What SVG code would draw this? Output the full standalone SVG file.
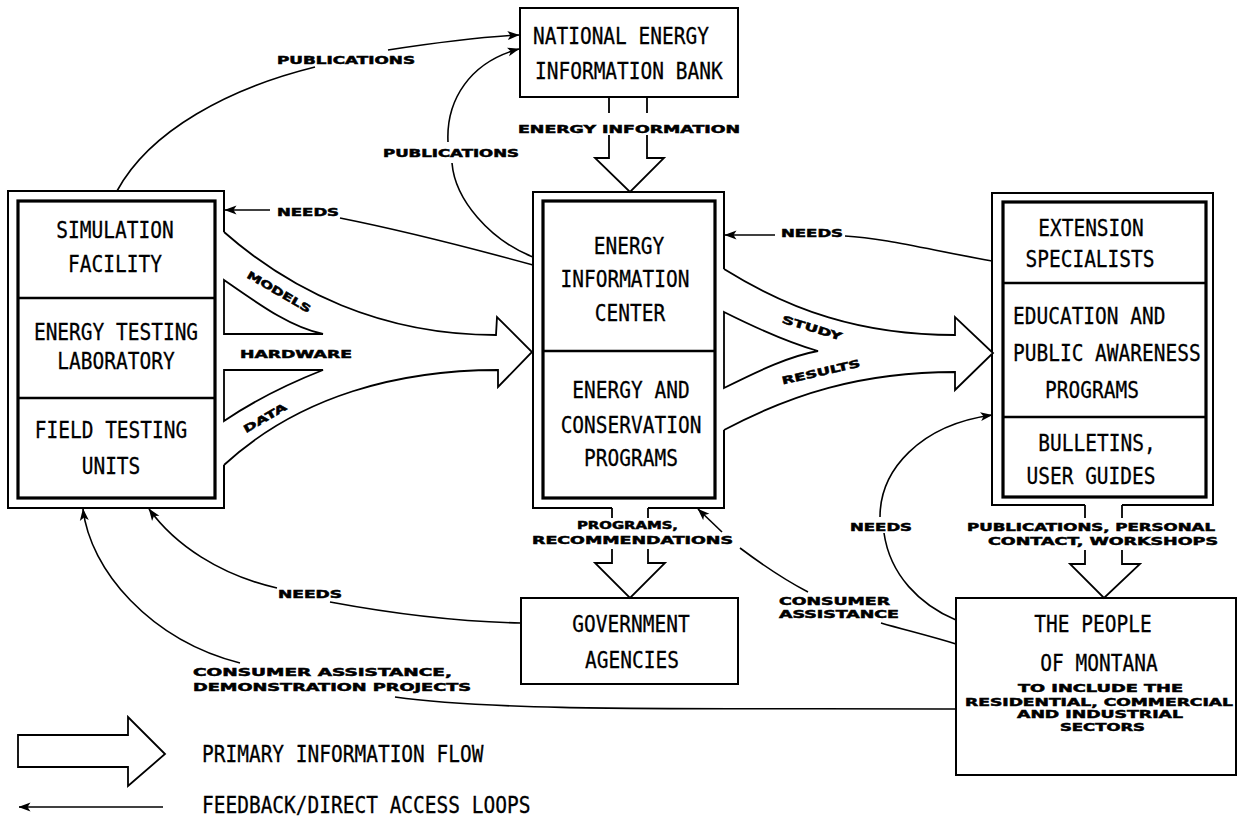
<svg xmlns="http://www.w3.org/2000/svg" width="1238" height="816" viewBox="0 0 1238 816">
<style>
.bg{fill:#fff}
.ob{fill:none;stroke:#000;stroke-width:2}
.ib{fill:none;stroke:#000;stroke-width:3.2}
.dv{stroke:#000;stroke-width:2.6}
.fl{fill:#fff;stroke:#000;stroke-width:1.8;stroke-linejoin:miter}
.cn{fill:none;stroke:#000;stroke-width:1.6}
.m{font-family:'DejaVu Sans Mono','Liberation Mono',monospace;font-size:19.5px;fill:#000;stroke:#000;stroke-width:0.25}
.mc{text-anchor:middle}
.l{font-family:'DejaVu Sans','Liberation Sans',sans-serif;font-weight:bold;font-size:10.5px;fill:#000;stroke:#000;stroke-width:0.5}
</style>
<defs>
<marker id="ah" viewBox="0 0 12 10" refX="11.5" refY="5" markerWidth="12" markerHeight="10" markerUnits="userSpaceOnUse" orient="auto">
<path d="M0,0.5 L12,5 L0,9.5 L3,5 Z" fill="#000"/>
</marker>
</defs>
<rect class="bg" x="0" y="0" width="1238" height="816"/>

<!-- National Energy Information Bank -->
<g id="neib">
<rect class="ob" x="520" y="8" width="218" height="89"/>
<text class="m" transform="translate(533 43.5) scale(1 1.2)">NATIONAL ENERGY</text>
<text class="m" transform="translate(535 78.5) scale(1 1.2)">INFORMATION BANK</text>
</g>

<!-- Left box -->
<g id="left-box">
<path class="ob" d="M224,232 L224,191 L8,191 L8,508 L224,508 L224,465"/>
<rect class="ib" x="18" y="201" width="197" height="297"/>
<line class="dv" x1="18" y1="298" x2="215" y2="298"/>
<line class="dv" x1="18" y1="398" x2="215" y2="398"/>
<text class="m mc" transform="translate(115 237.5) scale(1 1.2)">SIMULATION</text>
<text class="m mc" transform="translate(115 271.5) scale(1 1.2)">FACILITY</text>
<text class="m mc" transform="translate(116 339.5) scale(1 1.2)">ENERGY TESTING</text>
<text class="m mc" transform="translate(116 368.5) scale(1 1.2)">LABORATORY</text>
<text class="m mc" transform="translate(111 437.5) scale(1 1.2)">FIELD TESTING</text>
<text class="m mc" transform="translate(111 473.5) scale(1 1.2)">UNITS</text>
</g>

<!-- Center box -->
<g id="center-box">
<path class="ob" d="M612,508 L533,508 L533,192 L724,192 L724,269 M724,430 L724,508 L648,508"/>
<rect class="ib" x="543" y="201" width="172" height="297"/>
<line class="dv" x1="543" y1="351" x2="715" y2="351"/>
<text class="m mc" transform="translate(629 253.5) scale(1 1.2)">ENERGY</text>
<text class="m mc" transform="translate(625 286.5) scale(1 1.2)">INFORMATION</text>
<text class="m mc" transform="translate(630 320.5) scale(1 1.2)">CENTER</text>
<text class="m mc" transform="translate(631 397.5) scale(1 1.2)">ENERGY AND</text>
<text class="m mc" transform="translate(631 432.5) scale(1 1.2)">CONSERVATION</text>
<text class="m mc" transform="translate(631 465.5) scale(1 1.2)">PROGRAMS</text>
</g>

<!-- Right box -->
<g id="right-box">
<path class="ob" d="M1085,505 L992,505 L992,193 L1213,193 L1213,505 L1122,505"/>
<rect class="ib" x="1003" y="202" width="203" height="295"/>
<line class="dv" x1="1003" y1="283" x2="1206" y2="283"/>
<line class="dv" x1="1003" y1="417" x2="1206" y2="417"/>
<text class="m mc" transform="translate(1091 235.5) scale(1 1.2)">EXTENSION</text>
<text class="m mc" transform="translate(1090 266.5) scale(1 1.2)">SPECIALISTS</text>
<text class="m" transform="translate(1013 323.5) scale(1 1.2)">EDUCATION AND</text>
<text class="m" transform="translate(1013 360.5) scale(1 1.2)">PUBLIC AWARENESS</text>
<text class="m mc" transform="translate(1092 397.5) scale(1 1.2)">PROGRAMS</text>
<text class="m mc" transform="translate(1097 450.5) scale(1 1.2)">BULLETINS,</text>
<text class="m mc" transform="translate(1091 483.5) scale(1 1.2)">USER GUIDES</text>
</g>

<!-- Government agencies -->
<g id="gov">
<rect class="ob" x="521" y="598" width="217" height="86"/>
<text class="m mc" transform="translate(631 631.5) scale(1 1.2)">GOVERNMENT</text>
<text class="m mc" transform="translate(632 667.5) scale(1 1.2)">AGENCIES</text>
</g>

<!-- People of Montana -->
<g id="people">
<rect class="ob" x="956" y="598" width="280" height="177"/>
<text class="m mc" transform="translate(1093 631.5) scale(1 1.2)">THE PEOPLE</text>
<text class="m mc" transform="translate(1099 670.5) scale(1 1.2)">OF MONTANA</text>
<text class="l" x="1018" y="692" textLength="165" lengthAdjust="spacingAndGlyphs">TO INCLUDE THE</text>
<text class="l" x="965" y="706" textLength="268" lengthAdjust="spacingAndGlyphs">RESIDENTIAL, COMMERCIAL</text>
<text class="l" x="1017" y="718" textLength="166" lengthAdjust="spacingAndGlyphs">AND INDUSTRIAL</text>
<text class="l" x="1060" y="731" textLength="85" lengthAdjust="spacingAndGlyphs">SECTORS</text>
</g>

<!-- Connectors -->
<g id="connectors">
<!-- primary flows -->
<path class="fl" d="M609,97 L609,113 M647,113 L647,97"/>
<path class="fl" d="M609,135 L609,158 L595,158 L630,192 L664,158 L647,158 L647,135"/>
<path class="fl" d="M224,232 C290,290 380,335 496,335 L497,317 L532,352 L498,387 L498,370 C400,370 300,395 224,465"/>
<path class="fl" d="M224,280 C260,305 290,327 323,334 L224,334 Z"/>
<path class="fl" d="M224,370 L323,370 C290,383 255,400 224,421 Z"/>
<path class="fl" d="M724,269 C790,310 860,335 955,335 L955,317 L993,353 L955,390 L955,372 C860,372 790,395 724,430"/>
<path class="fl" d="M724,312 C760,330 790,343 818,351 C790,356 760,370 724,388 Z"/>
<path class="fl" d="M612,508 L612,518 M648,518 L648,508"/>
<path class="fl" d="M612,549 L612,563 L595,563 L630,598 L665,563 L648,563 L648,549"/>
<path class="fl" d="M1085,505 L1085,518 M1122,518 L1122,505"/>
<path class="fl" d="M1085,550 L1085,564 L1070,564 L1104,598 L1140,564 L1122,564 L1122,550"/>
<!-- feedback loops -->
<path class="cn" d="M117,191 C150,130 230,88 315,67"/>
<path class="cn" d="M388,50 C440,42 480,37 519,35" marker-end="url(#ah)"/>
<path class="cn" d="M533,257 C490,240 455,200 452,163"/>
<path class="cn" d="M448,142 C446,100 470,62 519,49" marker-end="url(#ah)"/>
<path class="cn" d="M533,265 C460,245 390,228 340,218"/>
<path class="cn" d="M270,210 L225,210" marker-end="url(#ah)"/>
<path class="cn" d="M992,261 C930,250 885,238 845,236"/>
<path class="cn" d="M775,235 L725,235" marker-end="url(#ah)"/>
<path class="cn" d="M521,623 C470,622 400,615 330,602"/>
<path class="cn" d="M277,588 C220,575 175,545 149,509" marker-end="url(#ah)"/>
<path class="cn" d="M956,709 C700,708 500,712 395,697"/>
<path class="cn" d="M240,663 C150,640 90,570 83,509" marker-end="url(#ah)"/>
<path class="cn" d="M956,644 C930,636 905,630 881,623"/>
<path class="cn" d="M808,592 C785,580 760,563 740,548"/>
<path class="cn" d="M722,532 L698,509" marker-end="url(#ah)"/>
<path class="cn" d="M956,620 C920,605 890,575 884,533"/>
<path class="cn" d="M880,517 C880,470 920,425 992,415" marker-end="url(#ah)"/>
<!-- labels -->
<text class="l" x="277" y="63.5" textLength="138" lengthAdjust="spacingAndGlyphs">PUBLICATIONS</text>
<text class="l" x="383" y="157" textLength="136" lengthAdjust="spacingAndGlyphs">PUBLICATIONS</text>
<text class="l" x="518" y="132.5" textLength="222" lengthAdjust="spacingAndGlyphs">ENERGY INFORMATION</text>
<text class="l" x="277" y="216" textLength="62" lengthAdjust="spacingAndGlyphs">NEEDS</text>
<text class="l" transform="translate(279 292) rotate(30)" x="-36" y="3.7" textLength="72" lengthAdjust="spacingAndGlyphs">MODELS</text>
<text class="l" x="240" y="358" textLength="112" lengthAdjust="spacingAndGlyphs">HARDWARE</text>
<text class="l" transform="translate(265 418) rotate(-30)" x="-24" y="3.7" textLength="48" lengthAdjust="spacingAndGlyphs">DATA</text>
<text class="l" x="781" y="237" textLength="62" lengthAdjust="spacingAndGlyphs">NEEDS</text>
<text class="l" transform="translate(812 328) rotate(17)" x="-31" y="3.7" textLength="62" lengthAdjust="spacingAndGlyphs">STUDY</text>
<text class="l" transform="translate(821 372) rotate(-13)" x="-40" y="3.7" textLength="80" lengthAdjust="spacingAndGlyphs">RESULTS</text>
<text class="l" x="577" y="529" textLength="101" lengthAdjust="spacingAndGlyphs">PROGRAMS,</text>
<text class="l" x="532" y="544" textLength="201" lengthAdjust="spacingAndGlyphs">RECOMMENDATIONS</text>
<text class="l" x="850" y="531" textLength="62" lengthAdjust="spacingAndGlyphs">NEEDS</text>
<text class="l" x="967" y="531" textLength="248" lengthAdjust="spacingAndGlyphs">PUBLICATIONS, PERSONAL</text>
<text class="l" x="988" y="545" textLength="230" lengthAdjust="spacingAndGlyphs">CONTACT, WORKSHOPS</text>
<text class="l" x="779" y="605" textLength="111" lengthAdjust="spacingAndGlyphs">CONSUMER</text>
<text class="l" x="779" y="618" textLength="120" lengthAdjust="spacingAndGlyphs">ASSISTANCE</text>
<text class="l" x="278" y="598" textLength="64" lengthAdjust="spacingAndGlyphs">NEEDS</text>
<text class="l" x="193" y="676" textLength="259" lengthAdjust="spacingAndGlyphs">CONSUMER ASSISTANCE,</text>
<text class="l" x="193" y="691" textLength="278" lengthAdjust="spacingAndGlyphs">DEMONSTRATION PROJECTS</text>
</g>

<!-- Legend -->
<g id="legend">
<path class="fl" d="M18,735 L128,735 L128,717 L165,754 L128,786 L128,767 L18,767 Z"/>
<text class="m" transform="translate(202 761.5) scale(1 1.2)">PRIMARY INFORMATION FLOW</text>
<path class="cn" d="M163,807 L19,807" marker-end="url(#ah)"/>
<text class="m" transform="translate(202 813) scale(1 1.2)">FEEDBACK/DIRECT ACCESS LOOPS</text>
</g>
</svg>
